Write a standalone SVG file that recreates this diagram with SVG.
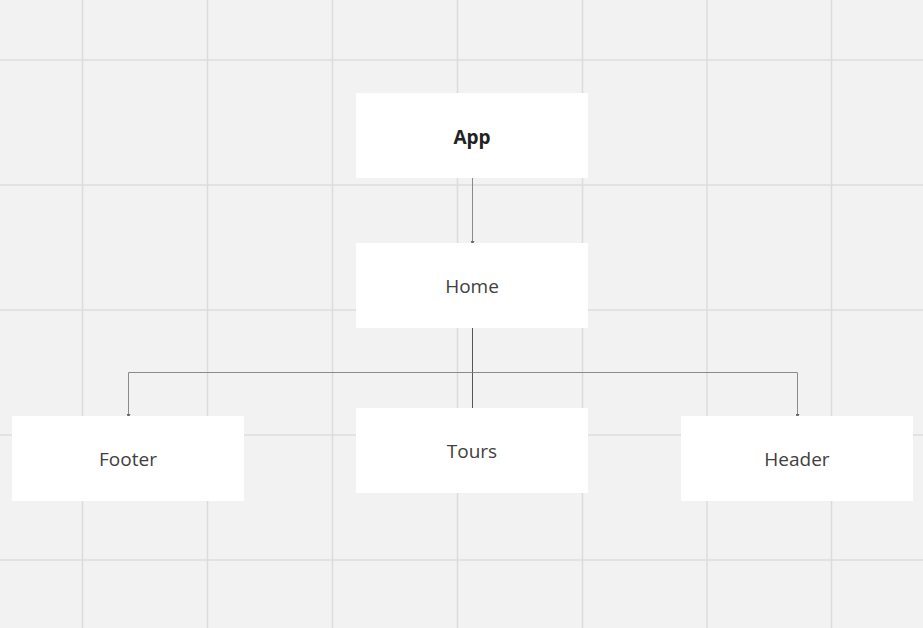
<svg xmlns="http://www.w3.org/2000/svg" width="923" height="628" viewBox="0 0 923 628">
<style>
.grid line{stroke:#dcdcdc;stroke-width:1.5}
.box{fill:#ffffff}
.lbl{font-family:"Open Sans","Noto Sans",sans-serif;font-size:19px;fill:#404040;text-anchor:middle;dominant-baseline:central}
.conn{fill:none;stroke:#8a8a8a;stroke-width:1}
.dark{stroke:#555555}
</style>
<defs>
<marker id="arr" markerWidth="4" markerHeight="4" refX="2" refY="2" orient="auto" markerUnits="userSpaceOnUse">
<path d="M0,0 L4,2 L0,4 z" fill="#666"/>
</marker>
</defs>
<rect width="923" height="628" fill="#f2f2f2"/>
<g class="grid">
<line x1="82.5" y1="0" x2="82.5" y2="628"/>
<line x1="207.5" y1="0" x2="207.5" y2="628"/>
<line x1="332.5" y1="0" x2="332.5" y2="628"/>
<line x1="457.5" y1="0" x2="457.5" y2="628"/>
<line x1="582.5" y1="0" x2="582.5" y2="628"/>
<line x1="707" y1="0" x2="707" y2="628"/>
<line x1="831.5" y1="0" x2="831.5" y2="628"/>
<line x1="0" y1="60" x2="923" y2="60"/>
<line x1="0" y1="185" x2="923" y2="185"/>
<line x1="0" y1="310" x2="923" y2="310"/>
<line x1="0" y1="435" x2="923" y2="435"/>
<line x1="0" y1="560" x2="923" y2="560"/>
</g>
<g id="connectors">
<line class="conn" x1="472.5" y1="178" x2="472.5" y2="243" marker-end="url(#arr)"/>
<line class="conn dark" x1="472.5" y1="328" x2="472.5" y2="408"/>
<polyline class="conn" points="472.5,372.5 128.5,372.5 128.5,416" marker-end="url(#arr)"/>
<polyline class="conn" points="472.5,372.5 797.5,372.5 797.5,416" marker-end="url(#arr)"/>
</g>
<g id="app"><rect class="box" x="356" y="93" width="232" height="85"/><text class="lbl" x="472" y="137" font-weight="bold" fill="#222" style="fill:#222">App</text></g>
<g id="home"><rect class="box" x="356" y="243" width="232" height="85"/><text class="lbl" x="472" y="286">Home</text></g>
<g id="footer"><rect class="box" x="12" y="416" width="232" height="85"/><text class="lbl" x="128" y="459">Footer</text></g>
<g id="tours"><rect class="box" x="356" y="408" width="232" height="85"/><text class="lbl" x="472" y="451">Tours</text></g>
<g id="header"><rect class="box" x="681" y="416" width="232" height="85"/><text class="lbl" x="797" y="459">Header</text></g>
</svg>
